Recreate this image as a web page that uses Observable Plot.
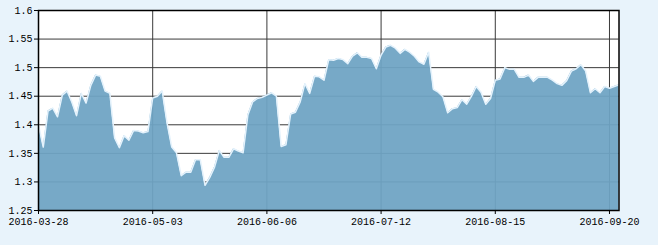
<!DOCTYPE html>
<html>
<head>
<meta charset="utf-8">
<script src="https://cdn.jsdelivr.net/npm/d3@7"></script>
<script src="https://cdn.jsdelivr.net/npm/@observablehq/plot@0.6"></script>
<style>
  html, body { margin: 0; padding: 0; background: #e8f3fb; }
  #chart { width: 658px; height: 245px; }
</style>
</head>
<body>
<div id="chart"></div>
<script>
// Trading days (one point per day)
const dates = [
  "2016-03-28","2016-03-29","2016-03-30","2016-03-31","2016-04-01",
  "2016-04-05","2016-04-06","2016-04-07","2016-04-08",
  "2016-04-11","2016-04-12","2016-04-13","2016-04-14","2016-04-15",
  "2016-04-18","2016-04-19","2016-04-20","2016-04-21","2016-04-22",
  "2016-04-25","2016-04-26","2016-04-27","2016-04-28","2016-04-29",
  "2016-05-03","2016-05-04","2016-05-05","2016-05-06",
  "2016-05-09","2016-05-10","2016-05-11","2016-05-12","2016-05-13",
  "2016-05-16","2016-05-17","2016-05-18","2016-05-19","2016-05-20",
  "2016-05-23","2016-05-24","2016-05-25","2016-05-26","2016-05-27",
  "2016-05-30","2016-05-31","2016-06-01","2016-06-02","2016-06-03",
  "2016-06-06","2016-06-07","2016-06-08",
  "2016-06-13","2016-06-14","2016-06-15","2016-06-16","2016-06-17",
  "2016-06-20","2016-06-21","2016-06-22","2016-06-23","2016-06-24",
  "2016-06-27","2016-06-28","2016-06-29","2016-06-30","2016-07-01",
  "2016-07-04","2016-07-05","2016-07-06","2016-07-07","2016-07-08",
  "2016-07-11","2016-07-12","2016-07-13","2016-07-14","2016-07-15",
  "2016-07-18","2016-07-19","2016-07-20","2016-07-21","2016-07-22",
  "2016-07-25","2016-07-26","2016-07-27","2016-07-28","2016-07-29",
  "2016-08-01","2016-08-02","2016-08-03","2016-08-04","2016-08-05",
  "2016-08-08","2016-08-09","2016-08-10","2016-08-11","2016-08-12",
  "2016-08-15","2016-08-16","2016-08-17","2016-08-18","2016-08-19",
  "2016-08-22","2016-08-23","2016-08-24","2016-08-25","2016-08-26",
  "2016-08-29","2016-08-30","2016-08-31","2016-09-01","2016-09-02",
  "2016-09-05","2016-09-06","2016-09-07","2016-09-08","2016-09-09",
  "2016-09-12","2016-09-13","2016-09-14",
  "2016-09-19","2016-09-20","2016-09-21","2016-09-22"
];

const values = [
  1.400,1.361,1.424,1.429,1.414,
  1.452,1.459,1.440,1.416,
  1.455,1.438,1.469,1.487,1.485,
  1.459,1.455,1.377,1.360,1.381,
  1.373,1.390,1.389,1.386,1.388,
  1.447,1.450,1.459,1.404,
  1.361,1.351,1.311,1.317,1.317,
  1.339,1.339,1.294,1.308,1.326,
  1.355,1.343,1.343,1.358,1.354,
  1.351,1.417,1.440,1.446,1.448,
  1.452,1.456,1.450,
  1.362,1.365,1.419,1.422,1.440,
  1.472,1.455,1.485,1.484,1.478,
  1.514,1.513,1.516,1.514,1.507,
  1.520,1.526,1.518,1.518,1.516,
  1.498,1.522,1.536,1.539,1.534,
  1.525,1.532,1.527,1.520,1.510,
  1.506,1.527,1.462,1.457,1.449,
  1.421,1.428,1.430,1.444,1.436,
  1.450,1.467,1.457,1.436,1.446,
  1.478,1.480,1.500,1.497,1.497,
  1.483,1.483,1.487,1.476,1.483,
  1.483,1.483,1.478,1.472,1.469,
  1.477,1.494,1.498,1.505,1.494,
  1.456,1.463,1.456,
  1.467,1.464,1.467,1.470
];

const xTickLabels = ["2016-03-28","2016-05-03","2016-06-06","2016-07-12","2016-08-15","2016-09-20"];
const yTickValues = [1.25,1.3,1.35,1.4,1.45,1.5,1.55,1.6];
const yTickLabels = ["1.25","1.3","1.35","1.4","1.45","1.5","1.55","1.6"];

const data = values.map((v, i) => ({i, v, date: dates[i]}));
const xTicks = xTickLabels.map(d => dates.indexOf(d));
const yLabel = new Map(yTickValues.map((t, k) => [t, yTickLabels[k]]));
const yMin = yTickValues[0], yMax = yTickValues[yTickValues.length - 1];

const chart = Plot.plot({
  width: 658,
  height: 245,
  marginLeft: 38,
  marginTop: 10,
  marginRight: 39.5,
  marginBottom: 35,
  style: {background: "#e8f3fb", fontFamily: "'Liberation Mono', monospace", fontSize: "10px", color: "black"},
  x: {domain: [0, dates.length - 1], label: null},
  y: {domain: [yMin, yMax], label: null},
  marks: [
    Plot.frame({fill: "white", stroke: null}),
    Plot.ruleY(yTickValues.slice(1, -1), {stroke: "#3a3a3a", strokeWidth: 1}),
    Plot.ruleX(xTicks.slice(1), {stroke: "#3a3a3a", strokeWidth: 1}),
    Plot.areaY(data, {x: "i", y1: yMin, y2: "v", fill: "#6ea4c3", fillOpacity: 0.94}),
    Plot.lineY(data, {x: "i", y: "v", stroke: "#e4f2fc", strokeWidth: 1.5}),
    Plot.frame({stroke: "black", strokeWidth: 1.5}),
    Plot.axisX({ticks: xTicks, tickFormat: i => dates[i], tickSize: 4, tickPadding: 3, label: null}),
    Plot.axisY({ticks: yTickValues, tickFormat: t => yLabel.get(t), tickSize: 4, tickPadding: 2, label: null})
  ]
});
document.getElementById("chart").appendChild(chart);
</script>
</body>
</html>
